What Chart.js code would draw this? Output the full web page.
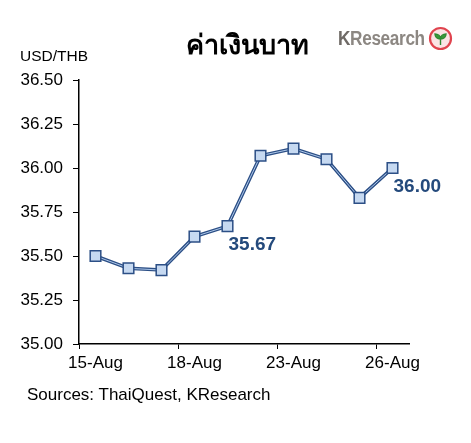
<!DOCTYPE html>
<html>
<head>
<meta charset="utf-8">
<script src="https://cdn.jsdelivr.net/npm/chart.js@4.4.0/dist/chart.umd.min.js"></script>
<style>
  body { margin: 0; background: #fff; }
  #wrap { position: relative; width: 471px; height: 443px; font-family: "Liberation Sans", Arial, sans-serif; }
  #title { position: absolute; left: 0; width: 494px; top: 23px; text-align: center; font-weight: bold; font-size: 27px; color: #000; }
  #yname { position: absolute; left: 20px; top: 47px; font-size: 15.5px; color: #000; }
  #logo { position: absolute; left: 338px; top: 26px; display: flex; align-items: center; }
  #logo span.txt { display: inline-block; font-weight: bold; font-size: 20px; color: #8c8782; letter-spacing: -0.4px; transform: scaleX(0.86); transform-origin: left center; width: 88px; white-space: nowrap; }
  #logo svg { margin-left: 2px; }
  #src { position: absolute; left: 27px; top: 385px; font-size: 17px; color: #000; }
</style>
</head>
<body>
<div id="wrap">
  <canvas id="fxChart" width="471" height="443"></canvas>
  <div id="title">ค่าเงินบาท</div>
  <div id="yname">USD/THB</div>
  <div id="logo"><span class="txt"><span style="color:#6f6a66">K</span>Research</span><svg width="25" height="25" viewBox="0 0 25 25">
      <circle cx="12.5" cy="12.5" r="10.5" fill="#fbe3e4" stroke="#e0434e" stroke-width="2.2"/>
      <path d="M12.5 19 L12.5 12 M12.5 13 C9 13 7 10.5 7 8 C10 8 12.5 10 12.5 13 M12.5 13 C16 13 18 10.5 18 8 C15 8 12.5 10 12.5 13" fill="#3a9a3c" stroke="#2f8a32" stroke-width="1.4"/>
    </svg></div>
  <div id="src">Sources: ThaiQuest, KResearch</div>
</div>
<script>
// trading days shown on the x axis, only every third one gets a label
const days = ['15-Aug', '16-Aug', '17-Aug', '18-Aug', '19-Aug', '22-Aug', '23-Aug', '24-Aug', '25-Aug', '26-Aug'];
const usdThb = [35.50, 35.43, 35.42, 35.61, 35.67, 36.07, 36.11, 36.05, 35.83, 36.00];
const yTicks = [35.00, 35.25, 35.50, 35.75, 36.00, 36.25, 36.50];
const labelledPoints = [4, 9]; // points that get a value label

const darkBlue = '#2c4f86';
const lightBlue = '#c6d9f1';

// draws the bold value labels next to two of the points
const valueLabels = {
    id: 'valueLabels',
    afterDatasetsDraw(chart) {
        const ctx = chart.ctx;
        const meta = chart.getDatasetMeta(0);
        ctx.save();
        ctx.font = 'bold 19px "Liberation Sans", Arial, sans-serif';
        ctx.fillStyle = '#244a7c';
        ctx.textAlign = 'left';
        ctx.textBaseline = 'middle';
        labelledPoints.forEach(i => {
            const pt = meta.data[i];
            ctx.fillText(usdThb[i].toFixed(2), pt.x + 1, pt.y + 19);
        });
        ctx.restore();
    }
};

Chart.defaults.font.family = '"Liberation Sans", Arial, sans-serif';
Chart.defaults.color = '#000';

new Chart(document.getElementById('fxChart'), {
    type: 'line',
    data: {
        labels: days,
        datasets: [
            {
                // markers only
                data: usdThb,
                showLine: false,
                pointStyle: 'rect',
                pointRadius: 7.5,
                pointHoverRadius: 7.5,
                pointBackgroundColor: lightBlue,
                pointBorderColor: darkBlue,
                pointBorderWidth: 1.5,
            },
            {
                // light inner stroke of the double line
                data: usdThb,
                borderColor: '#aec8ea',
                borderWidth: 1,
                pointRadius: 0,
                tension: 0,
            },
            {
                data: usdThb,
                borderColor: darkBlue,
                borderWidth: 3.5,
                pointRadius: 0,
                tension: 0,
            },
        ],
    },
    options: {
        responsive: false,
        animation: false,
        layout: { padding: { left: 0, right: 62, top: 80, bottom: 0 } },
        plugins: {
            legend: { display: false },
            tooltip: { enabled: false },
        },
        scales: {
            x: {
                offset: true,
                grid: {
                    offset: true,
                    drawOnChartArea: false,
                    tickLength: 5,
                    tickColor: ctx => (ctx.index % 3 === 0 ? '#000' : 'rgba(0,0,0,0)'),
                },
                border: { color: '#000', width: 1.5 },
                ticks: {
                    autoSkip: false,
                    maxRotation: 0,
                    padding: 4,
                    font: { size: 17 },
                    callback: (value, index) => (index % 3 === 0 ? days[index] : ''),
                },
                afterFit: scale => { scale.height = 99; },
            },
            y: {
                min: yTicks[0],
                max: yTicks[yTicks.length - 1],
                afterBuildTicks: scale => { scale.ticks = yTicks.map(v => ({ value: v })); },
                grid: {
                    drawOnChartArea: false,
                    tickLength: 6,
                    tickColor: '#000',
                },
                border: { color: '#000', width: 1.5 },
                ticks: {
                    padding: 10,
                    font: { size: 17 },
                    callback: value => value.toFixed(2),
                },
                afterFit: scale => { scale.width = 79; },
            },
        },
    },
    plugins: [valueLabels],
});
</script>
</body>
</html>
